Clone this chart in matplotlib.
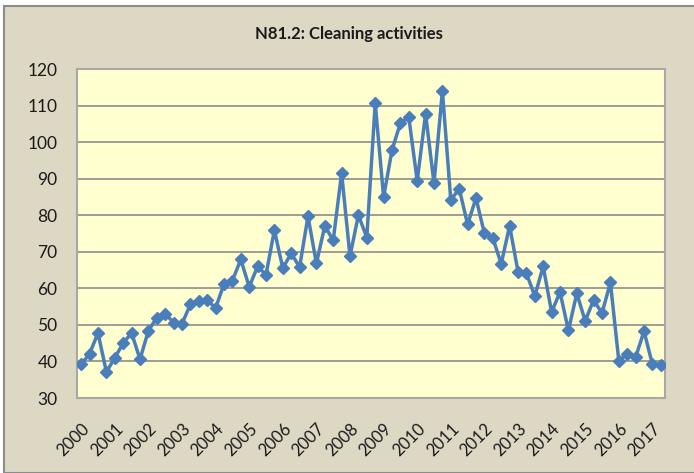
import numpy as np
import matplotlib
matplotlib.use("Agg")
import matplotlib.pyplot as plt
from matplotlib.patches import Rectangle

# quarterly values, 2000 Q1 .. 2017 Q2
values = [
    39.2, 42.1, 47.8, 37.1,
    41.0, 45.0, 47.8, 40.6,
    48.4, 52.0, 53.1, 50.6,
    50.3, 55.6, 56.6, 56.8,
    54.6, 61.2, 62.1, 67.9,
    60.4, 66.0, 63.7, 75.9,
    65.5, 69.6, 65.8, 79.7,
    66.8, 77.1, 73.1, 91.5,
    68.8, 80.0, 73.9, 110.6,
    85.0, 97.8, 105.2, 106.8,
    89.4, 107.7, 88.7, 114.0,
    84.1, 87.3, 77.5, 84.7,
    75.0, 73.8, 66.7, 77.1,
    64.6, 64.1, 57.9, 66.0,
    53.5, 59.0, 48.5, 58.6,
    51.1, 56.8, 53.2, 61.6,
    40.2, 42.0, 41.1, 48.3,
    39.2, 39.0,
]
years = [str(y) for y in range(2000, 2018)]
title = "N81.2: Cleaning activities"

W, H = 694, 473
bg = "#ddd8c3"
fig = plt.figure(figsize=(W / 100, H / 100), dpi=100, facecolor="white")

# outer chart frame
fig.patches.append(Rectangle((4 / W, 0), 1, 1 - 6 / H, transform=fig.transFigure,
                             facecolor=bg, edgecolor="#8c8c8c", linewidth=1.5, zorder=-1))

ax = fig.add_axes([77 / W, 1 - 398 / H, (665 - 77) / W, (398 - 69) / H])
ax.set_zorder(1)
ax.set_facecolor("#ffffd0")

x = np.arange(len(values))
ax.plot(x, values, color="#4a7ebb", linewidth=2.5, marker="D", markersize=6.5,
        markerfacecolor="#4a7ebb", markeredgecolor="#4a7ebb", zorder=3)

ax.set_xlim(-0.5, len(values) - 0.5)
ax.set_ylim(30, 120)
ax.set_yticks(range(30, 121, 10))
ax.set_xticks(range(0, len(values), 4))
ax.set_xticklabels(years, rotation=45, ha="right", rotation_mode="anchor")

ax.grid(axis="y", color="#8c8c8c", linewidth=1.2)
ax.set_axisbelow(True)
for s in ax.spines.values():
    s.set_color("#a8a8a8")
    s.set_linewidth(1.5)
ax.tick_params(axis="both", length=0, labelsize=12.5, colors="#1a1a1a")
ax.tick_params(axis="y", pad=14)
ax.tick_params(axis="x", labelsize=12, pad=16)
for lbl in ax.get_xticklabels() + ax.get_yticklabels():
    lbl.set_fontfamily("Lato")

fig.text(0.5 * (1 + 4 / W), 1 - 34 / H, title, ha="center", va="center",
         fontsize=12, fontweight="bold", family="Lato", color="#1a1a1a", zorder=2)

fig.savefig("out.png", dpi=100, facecolor=fig.get_facecolor())
